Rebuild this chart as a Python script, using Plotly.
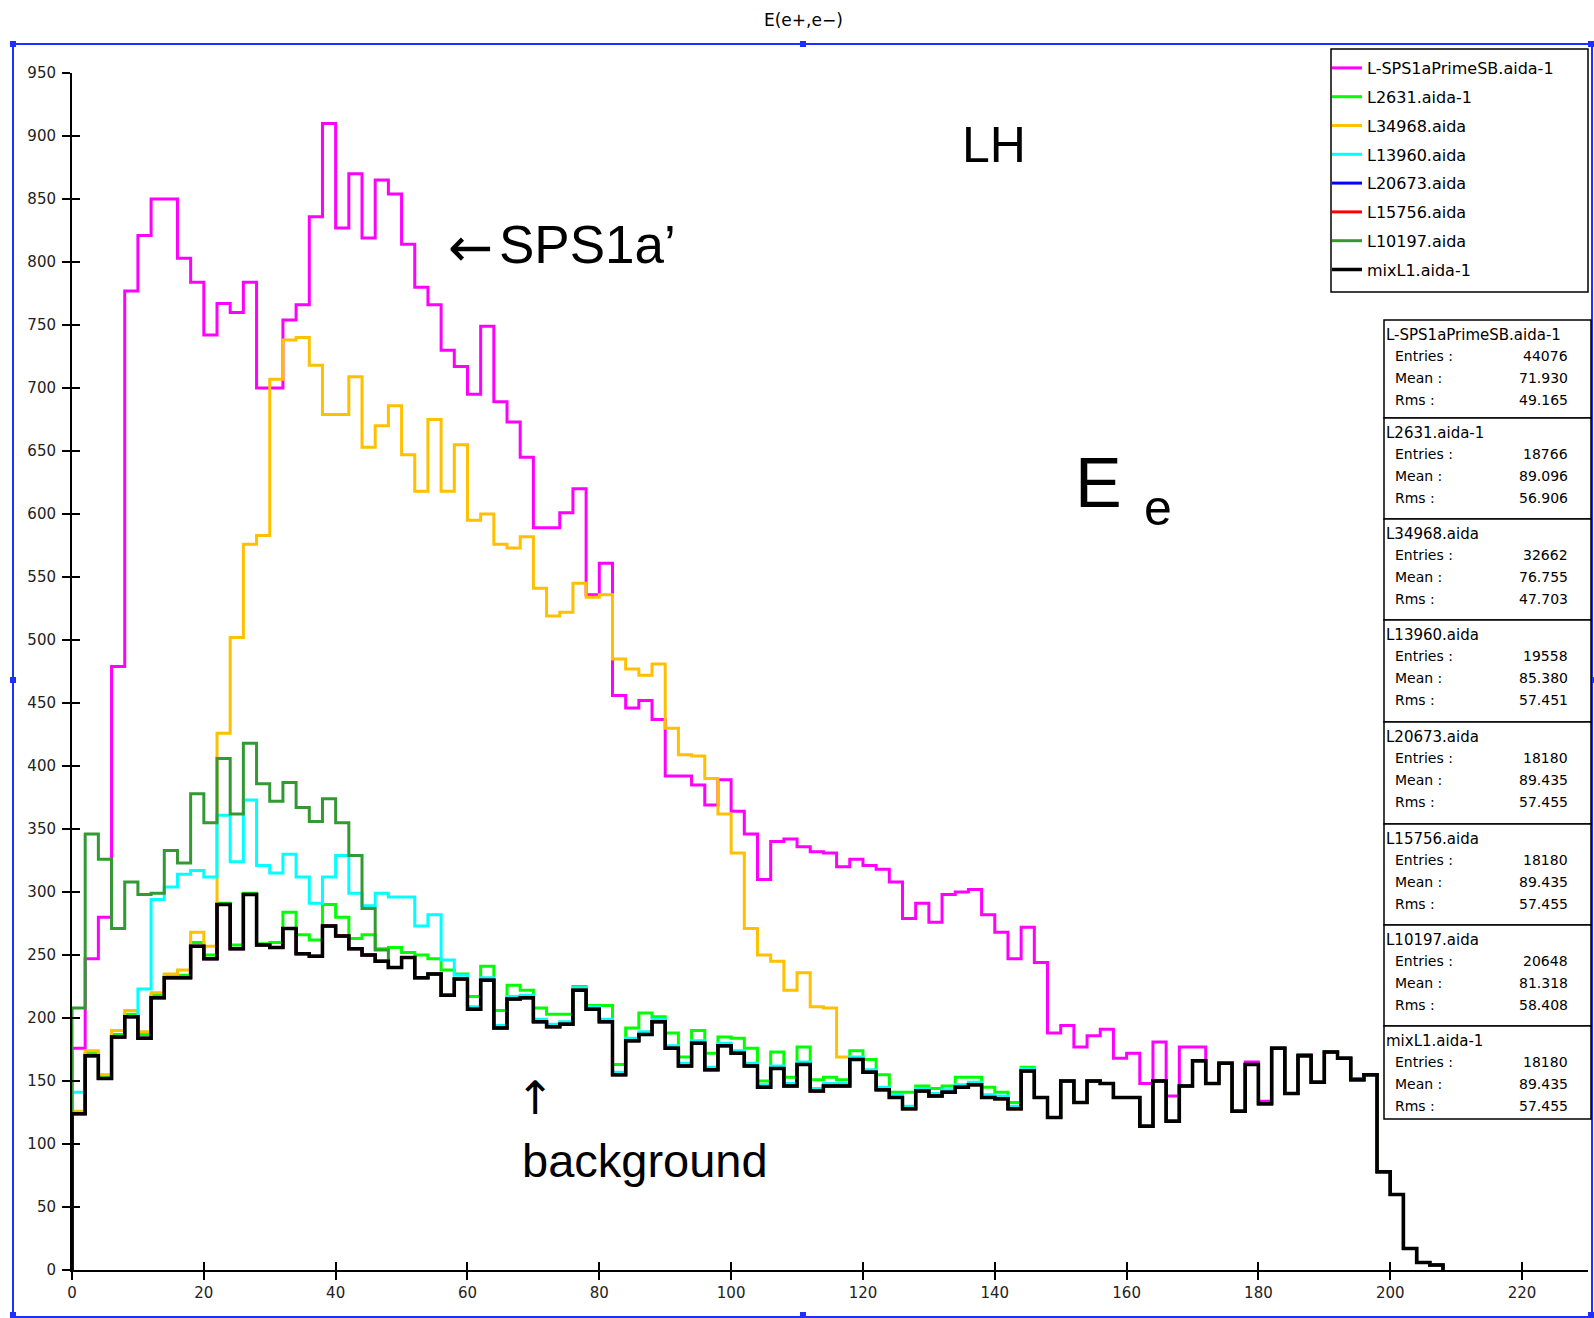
import plotly.graph_objects as go

# ---------------------------------------------------------------
# Histogram contents: E(e+,e-) spectra, 2 GeV bins from 0 to 208
# ---------------------------------------------------------------
BIN_WIDTH = 2
N_BINS = 104

sps1a = [176, 247, 280, 479, 777, 821, 850, 850, 803, 784,
         742, 767, 760, 784, 700, 700, 754, 766, 836, 910,
         827, 870, 819, 865, 854, 814, 780, 766, 730, 717,
         695, 749, 689, 673, 645, 589, 589, 601, 620, 536,
         561, 456, 446, 452, 437, 392, 392, 385, 369, 389,
         364, 346, 310, 340, 342, 336, 332, 331, 320, 326,
         321, 318, 308, 279, 291, 276, 298, 300, 302, 282,
         268, 247, 272, 244, 188, 194, 177, 186, 191, 168,
         172, 148, 181, 138, 177, 177, 148, 164, 126, 165,
         134, 176, 140, 171, 149, 173, 168, 152, 155, 78,
         60, 17, 6, 4]

l2631 = [125, 172, 154, 187, 203, 187, 218, 234, 234, 260,
         250, 291, 258, 299, 259, 260, 284, 266, 262, 290,
         280, 263, 266, 255, 256, 252, 250, 247, 238, 235,
         217, 241, 206, 226, 222, 208, 203, 203, 225, 210,
         210, 163, 192, 204, 201, 188, 169, 190, 172, 185,
         184, 176, 150, 173, 153, 177, 151, 153, 151, 174,
         167, 155, 141, 141, 146, 144, 146, 153, 153, 145,
         141, 133, 161, 137, 121, 150, 133, 150, 148, 137,
         137, 114, 150, 118, 146, 166, 148, 164, 126, 163,
         132, 176, 140, 170, 149, 173, 168, 151, 155, 78,
         60, 17, 6, 4]

l34968 = [126, 174, 155, 190, 206, 189, 220, 235, 238, 268,
          257, 426, 502, 576, 583, 707, 738, 740, 718, 679,
          679, 709, 653, 670, 686, 647, 618, 675, 618, 655,
          595, 600, 576, 573, 582, 541, 519, 522, 545, 534,
          536, 485, 477, 472, 481, 430, 409, 408, 390, 362,
          331, 271, 250, 245, 222, 236, 209, 208, 169, 167,
          157, 143, 137, 128, 142, 138, 141, 145, 147, 137,
          136, 128, 158, 137, 121, 150, 133, 150, 148, 137,
          137, 114, 150, 118, 146, 166, 148, 164, 126, 163,
          132, 176, 140, 170, 149, 173, 168, 151, 155, 78,
          60, 17, 6, 4]

l13960 = [141, 170, 152, 185, 201, 223, 294, 304, 314, 317,
          312, 361, 324, 373, 321, 315, 330, 312, 291, 312,
          329, 299, 289, 299, 296, 296, 273, 282, 246, 234,
          209, 232, 194, 217, 218, 199, 195, 197, 224, 209,
          199, 157, 184, 189, 199, 178, 164, 182, 161, 180,
          174, 164, 147, 162, 148, 165, 144, 148, 148, 169,
          159, 145, 139, 130, 144, 140, 143, 147, 149, 139,
          138, 130, 160, 137, 121, 150, 133, 150, 148, 137,
          137, 114, 150, 118, 146, 166, 148, 164, 126, 163,
          132, 176, 140, 170, 149, 173, 168, 151, 155, 78,
          60, 17, 6, 4]

l10197 = [208, 346, 326, 271, 308, 298, 299, 333, 323, 378,
          355, 406, 362, 418, 386, 372, 387, 367, 356, 374,
          355, 329, 287, 254, 240, 248, 232, 235, 218, 231,
          207, 230, 192, 215, 216, 197, 193, 195, 222, 207,
          197, 155, 182, 187, 197, 176, 162, 180, 159, 178,
          172, 162, 145, 160, 146, 163, 142, 146, 146, 167,
          157, 143, 137, 128, 142, 138, 141, 145, 147, 137,
          136, 128, 158, 137, 121, 150, 133, 150, 148, 137,
          137, 114, 150, 118, 146, 166, 148, 164, 126, 163,
          132, 176, 140, 170, 149, 173, 168, 151, 155, 78,
          60, 17, 6, 4]

mixl1 = [124, 170, 152, 185, 201, 184, 216, 232, 232, 257,
         247, 290, 255, 298, 258, 256, 271, 251, 249, 273,
         265, 255, 250, 245, 240, 248, 232, 235, 218, 231,
         207, 230, 192, 215, 216, 197, 193, 195, 222, 207,
         197, 155, 182, 187, 197, 176, 162, 180, 159, 178,
         172, 162, 145, 160, 146, 163, 142, 146, 146, 167,
         157, 143, 137, 128, 142, 138, 141, 145, 147, 137,
         136, 128, 158, 137, 121, 150, 133, 150, 148, 137,
         137, 114, 150, 118, 146, 166, 148, 164, 126, 163,
         132, 176, 140, 170, 149, 173, 168, 151, 155, 78,
         60, 17, 6, 4]

# L20673 and L15756 carry exactly the same contents as mixL1
l20673 = list(mixl1)
l15756 = list(mixl1)

# Statistics boxes
stat_names = ["L-SPS1aPrimeSB.aida-1", "L2631.aida-1", "L34968.aida", "L13960.aida",
              "L20673.aida", "L15756.aida", "L10197.aida", "mixL1.aida-1"]
stat_entries = ["44076", "18766", "32662", "19558", "18180", "18180", "20648", "18180"]
stat_means = ["71.930", "89.096", "76.755", "85.380", "89.435", "89.435", "81.318", "89.435"]
stat_rms = ["49.165", "56.906", "47.703", "57.451", "57.455", "57.455", "58.408", "57.455"]

x_ticks = list(range(0, 221, 20))
y_ticks = list(range(0, 951, 50))

# ---------------------------------------------------------------
series = [
    (stat_names[0], sps1a, "#ff00ff", 3),
    (stat_names[1], l2631, "#00ff00", 3),
    (stat_names[2], l34968, "#ffc000", 3),
    (stat_names[3], l13960, "#00ffff", 3),
    (stat_names[4], l20673, "#0000ff", 3),
    (stat_names[5], l15756, "#ff0000", 3),
    (stat_names[6], l10197, "#339933", 3),
    (stat_names[7], mixl1, "#000000", 3.5),
]

W, H = 1594, 1318
PL, PR, PT, PB = 72, 1588, 73, 1270   # plot area in page pixels


def fx(x):
    return (x - PL) / (PR - PL)


def fy(y):
    return (PB - y) / (PB - PT)


edges = [i * BIN_WIDTH for i in range(N_BINS + 1)]

fig = go.Figure()
for k, (name, vals, color, lw) in enumerate(series):
    # outline of the histogram: rise at the first edge, fall after the last bin
    xs = [edges[0]] + edges[:N_BINS] + [edges[N_BINS]]
    ys = [0] + list(vals) + [0]
    fig.add_trace(go.Scatter(
        x=xs, y=ys, mode="lines", name=name,
        line=dict(color=color, width=lw, shape="hv"),
        legendgroup=f"g{k}", hoverinfo="skip",
    ))

# companion axes that draw the inner half of every tick mark
fig.add_trace(go.Scatter(x=[None], y=[None], xaxis="x2", yaxis="y2",
                         showlegend=False, hoverinfo="skip"))

tick_font = dict(family="DejaVu Sans", size=15, color="#222222")
fig.update_layout(
    width=W, height=H,
    margin=dict(l=PL, r=W - PR, t=PT, b=H - PB),
    paper_bgcolor="white", plot_bgcolor="white",
    xaxis=dict(range=[0, 230], tickvals=x_ticks, ticks="outside", ticklen=8,
               tickwidth=1.5, tickcolor="black", showline=True, linecolor="black",
               linewidth=2, showgrid=False, zeroline=False, tickfont=tick_font),
    yaxis=dict(range=[0, 950], tickvals=y_ticks, ticks="outside", ticklen=8,
               tickwidth=1.5, tickcolor="black", showline=True, linecolor="black",
               linewidth=2, showgrid=False, zeroline=False, tickfont=tick_font,
               ticklabelstandoff=3),
    xaxis2=dict(overlaying="x", range=[0, 230], tickvals=x_ticks, ticks="inside",
                ticklen=8, tickwidth=1.5, tickcolor="black", showticklabels=False,
                showline=False, showgrid=False, zeroline=False),
    yaxis2=dict(overlaying="y", range=[0, 950], tickvals=y_ticks, ticks="inside",
                ticklen=8, tickwidth=1.5, tickcolor="black", showticklabels=False,
                showline=False, showgrid=False, zeroline=False),
    legend=dict(x=fx(1327), y=fy(51), xanchor="left", yanchor="top",
                bgcolor="rgba(0,0,0,0)", borderwidth=0,
                font=dict(family="DejaVu Sans", size=16, color="black"),
                tracegroupgap=5, itemclick=False, itemdoubleclick=False),
)

shapes = []
annotations = []

# outer blue selection frame with its handles
BLUE = "#1f2fff"
shapes.append(dict(type="rect", xref="paper", yref="paper",
                   x0=fx(13), x1=fx(1592), y0=fy(44), y1=fy(1317),
                   line=dict(color=BLUE, width=2), layer="below"))
for hx, hy in [(13, 44), (803, 44), (1591, 44), (13, 680), (1591, 680),
               (13, 1315), (803, 1315), (1591, 1315)]:
    shapes.append(dict(type="rect", xref="paper", yref="paper",
                       x0=fx(hx - 3), x1=fx(hx + 3), y0=fy(hy - 3), y1=fy(hy + 3),
                       line=dict(width=0), fillcolor=BLUE))

# frame of the legend
shapes.append(dict(type="rect", xref="paper", yref="paper",
                   x0=fx(1331), x1=fx(1588), y0=fy(49), y1=fy(292),
                   line=dict(color="black", width=1.5), fillcolor="white",
                   layer="below"))

# statistics boxes
box_edges = [320, 418, 519, 620, 722, 824, 925, 1026, 1119]
BX0, BX1 = 1384, 1591
sfont = dict(family="DejaVu Sans", size=14, color="black")
tfont = dict(family="DejaVu Sans", size=15, color="black")
for i, name in enumerate(stat_names):
    top, bot = box_edges[i], box_edges[i + 1]
    shapes.append(dict(type="rect", xref="paper", yref="paper",
                       x0=fx(BX0), x1=fx(BX1), y0=fy(top), y1=fy(bot),
                       line=dict(color="black", width=1.5), fillcolor="white",
                       layer="above"))
    annotations.append(dict(xref="paper", yref="paper", x=fx(BX0), y=fy(top + 15),
                            text=name, showarrow=False, xanchor="left",
                            yanchor="middle", font=tfont))
    rows = [("Entries :", stat_entries[i]), ("Mean :", stat_means[i]),
            ("Rms :", stat_rms[i])]
    for r, (lab, val) in enumerate(rows):
        yy = top + 36 + 22 * r
        annotations.append(dict(xref="paper", yref="paper", x=fx(BX0 + 9), y=fy(yy),
                                text=lab, showarrow=False, xanchor="left",
                                yanchor="middle", font=sfont))
        annotations.append(dict(xref="paper", yref="paper", x=fx(1570), y=fy(yy),
                                text=val, showarrow=False, xanchor="right",
                                yanchor="middle", font=sfont))

# title and labels
annotations.append(dict(xref="paper", yref="paper", x=fx(803), y=fy(20),
                        text="E(e+,e−)", showarrow=False, xanchor="center",
                        yanchor="middle",
                        font=dict(family="DejaVu Sans", size=17, color="black")))
big = "Liberation Sans"
annotations.append(dict(xref="paper", yref="paper", x=fx(994), y=fy(145),
                        text="LH", showarrow=False, xanchor="center", yanchor="middle",
                        font=dict(family=big, size=50, color="black")))
annotations.append(dict(xref="paper", yref="paper", x=fx(446), y=fy(247),
                        text="←", showarrow=False, xanchor="left",
                        yanchor="middle",
                        font=dict(family="DejaVu Sans", size=54, color="black")))
annotations.append(dict(xref="paper", yref="paper", x=fx(497), y=fy(244),
                        text="SPS1a’", showarrow=False, xanchor="left",
                        yanchor="middle", font=dict(family=big, size=53, color="black")))
annotations.append(dict(xref="paper", yref="paper", x=fx(1073), y=fy(483),
                        text="E", showarrow=False, xanchor="left", yanchor="middle",
                        font=dict(family=big, size=70, color="black")))
annotations.append(dict(xref="paper", yref="paper", x=fx(1142), y=fy(508),
                        text="e", showarrow=False, xanchor="left", yanchor="middle",
                        font=dict(family=big, size=50, color="black")))
annotations.append(dict(xref="paper", yref="paper", x=fx(535), y=fy(1098),
                        text="↑", showarrow=False, xanchor="center", yanchor="middle",
                        font=dict(family="DejaVu Sans", size=46, color="black")))
annotations.append(dict(xref="paper", yref="paper", x=fx(645), y=fy(1160),
                        text="background", showarrow=False, xanchor="center",
                        yanchor="middle", font=dict(family=big, size=47, color="black")))

fig.update_layout(shapes=shapes, annotations=annotations)
fig.write_html("out.html")
